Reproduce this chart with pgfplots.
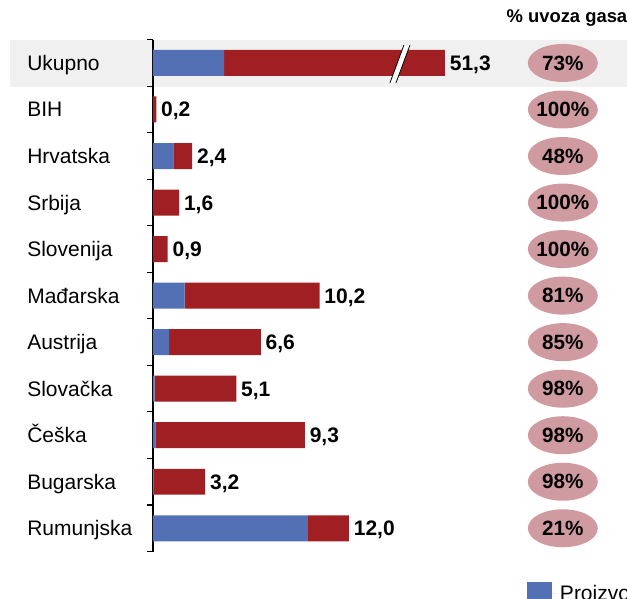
\documentclass[border=0pt]{standalone}
\usepackage{fontspec}
\setmainfont{Liberation Sans}
\usepackage{pgfplots}
\pgfplotsset{compat=1.18}
\usepackage{pgfplotstable}
\usetikzlibrary{shapes.geometric}

\definecolor{prodblue}{RGB}{84,112,180}
\definecolor{uvozred}{RGB}{160,31,35}
\definecolor{pctpink}{RGB}{207,155,160}
\definecolor{bandgrey}{RGB}{240,240,240}

% Ukupno is drawn on a broken (compressed) scale: its bar ends at 17.88
\pgfplotstableread{
cat prod imp tot total pos pct
0 4.35 13.53 17.88 51,3 25.1 73\%
1 0 0.2 0.2 0,2 25.1 100\%
2 1.25 1.15 2.4 2,4 25.1 48\%
3 0 1.6 1.6 1,6 25.1 100\%
4 0 0.9 0.9 0,9 25.1 100\%
5 1.94 8.26 10.2 10,2 25.1 81\%
6 0.99 5.61 6.6 6,6 25.1 85\%
7 0.1 5.0 5.1 5,1 25.1 98\%
8 0.15 9.15 9.3 9,3 25.1 98\%
9 0.06 3.14 3.2 3,2 25.1 98\%
10 9.48 2.52 12.0 12,0 25.1 21\%
}\data

\pgfplotsset{
  geom/.style={x=12.25pt, y=34.91pt, xmin=0, xmax=29, ymin=-0.5, ymax=10.5,
    y dir=reverse, clip=false},
}

\begin{document}
\begin{tikzpicture}
% background band
\begin{axis}[geom, hide axis]
\fill[bandgrey] (axis cs:-8.76,-0.494) rectangle (axis cs:29.2,0.516);
\addplot[draw=none, mark=none] coordinates {(0,0)};
\coordinate (BL) at (axis cs:-9.37,11.51);
\coordinate (TR) at (axis cs:29.03,-1.353);
\end{axis}

% import share column
\begin{axis}[geom, hide axis]
\addplot[draw=none, mark=none, point meta=explicit symbolic,
  nodes near coords={\makebox[0pt]{\pgfplotspointmeta}},
  nodes near coords style={anchor=center, ellipse, fill=pctpink, inner sep=0pt,
    minimum width=52.5pt, minimum height=28.5pt,
    font=\bfseries\fontsize{15.5}{18}\selectfont}]
  table[x=pos, y=cat, meta=pct] {\data};
\node[font=\bfseries\fontsize{13.8}{16}\selectfont] at (axis cs:25.35,-0.967) {\% uvoza gasa};
\end{axis}

% bars
\begin{axis}[geom,
  xbar stacked, bar width=19.5pt,
  axis x line=none, axis y line*=left,
  ytick={0,...,10},
  yticklabels={Ukupno,BIH,Hrvatska,Srbija,Slovenija,Mađarska,Austrija,Slovačka,Češka,Bugarska,Rumunjska},
  minor ytick={-0.5,0.5,...,10.5},
  major tick length=0pt, minor tick length=4.5pt, tick align=outside,
  tick style={black, line width=0.8pt},
  axis line style={black, line width=0.8pt},
  yticklabel style={anchor=base west, inner sep=0pt, xshift=-94.5pt, yshift=-5.6pt,
    font=\fontsize{15.75}{18}\selectfont},
  legend style={at={(axis description cs:0.79,0)}, anchor=north west, yshift=-22.5pt,
    draw=none, fill=none, inner sep=0pt, legend columns=2,
    font=\fontsize{15.75}{18}\selectfont},
]
\addplot[fill=prodblue, draw=none,
  legend image code/.code={\fill[prodblue] (0pt,-9pt) rectangle (18.75pt,9pt); \path (0pt,0pt) -- (22.5pt,0pt);}]
  table[x=prod, y=cat] {\data};
\addplot[fill=uvozred, draw=none,
  legend image code/.code={\fill[uvozred] (0pt,-9pt) rectangle (18.75pt,9pt); \path (0pt,0pt) -- (22.5pt,0pt);}]
  table[x=imp, y=cat] {\data};
\legend{Proizvodnja, Uvoz}
\end{axis}

% totals at the bar ends, and the axis break on the Ukupno bar
\begin{axis}[geom, hide axis]
\addplot[draw=none, mark=none, point meta=explicit symbolic, nodes near coords,
  nodes near coords style={anchor=base west, inner sep=0pt, xshift=3.5pt, yshift=-5.6pt,
    font=\bfseries\fontsize{15.75}{18}\selectfont}]
  table[x=tot, y=cat, meta=total] {\data};
\fill[white] (axis cs:14.51,0.43) -- (axis cs:14.88,0.43) -- (axis cs:15.74,-0.387) -- (axis cs:15.37,-0.387) -- cycle;
\draw[black, line width=0.6pt] (axis cs:14.51,0.43) -- (axis cs:15.37,-0.387);
\draw[black, line width=0.6pt] (axis cs:14.88,0.43) -- (axis cs:15.74,-0.387);
\end{axis}
\pgfresetboundingbox
\path (BL) rectangle (TR);
\end{tikzpicture}
\end{document}
